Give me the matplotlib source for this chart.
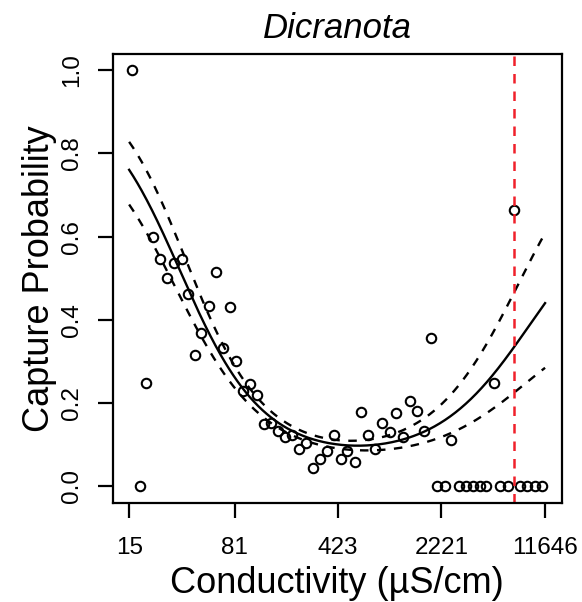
import numpy as np
import matplotlib
matplotlib.use("Agg")
import matplotlib.pyplot as plt

plt.rcParams['font.family'] = ['Liberation Sans', 'DejaVu Sans']

# ---- data ----
cond = [15.7, 19.8, 17.8, 22.0, 24.5, 30.7, 34.7, 27.5, 60.0, 38.5, 53.9, 75.0,
        47.7, 42.9, 67.4, 83.5, 104.5, 92.9, 116.9, 129.3, 146.2, 162.5, 180.9,
        204.6, 255.8, 227.3, 395.9, 355.7, 316.5, 284.3, 442.8, 492.9, 553.9,
        616.6, 684.8, 762.6, 862.5, 969, 1066, 1199, 1335, 1509, 1677, 1867,
        2600, 5111, 7039,
        2077, 2335, 2934, 3304, 3670, 4086, 4548, 5690, 6395, 7833, 8760, 9848, 11057]
capture = [1.0, 0.248, 0.0, 0.60, 0.545, 0.537, 0.545, 0.50, 0.515, 0.462, 0.433, 0.431,
           0.367, 0.315, 0.332, 0.30, 0.245, 0.229, 0.219, 0.149, 0.152, 0.132, 0.119,
           0.123, 0.104, 0.088, 0.123, 0.085, 0.066, 0.043, 0.065, 0.085, 0.058,
           0.179, 0.124, 0.090, 0.152, 0.131, 0.176, 0.119, 0.204, 0.180, 0.133, 0.357,
           0.111, 0.249, 0.665,
           0, 0, 0, 0, 0, 0, 0, 0, 0, 0, 0, 0, 0]

# fitted curve and confidence band, read at a few conductivities
fit_cond = [15, 38.5, 63.9, 75.0, 108.9, 185.9, 485, 1199, 3304, 5055, 6960, 11646]
fit_prob = [0.761, 0.459, 0.343, 0.283, 0.207, 0.127, 0.0986, 0.119, 0.199, 0.255, 0.335, 0.443]
upper_cond = [15, 29.5, 40.7, 57.5, 75.0, 146.2, 316.5, 600, 1266, 2045, 3304, 6605, 11244]
upper_prob = [0.828, 0.631, 0.503, 0.383, 0.303, 0.175, 0.120, 0.111, 0.151, 0.200, 0.287, 0.455, 0.611]
lower_cond = [15, 23.2, 34.7, 53.1, 62.2, 103.3, 633, 1566, 2666, 4310, 6960, 9090, 11646]
lower_prob = [0.678, 0.559, 0.447, 0.331, 0.291, 0.191, 0.0865, 0.111, 0.139, 0.191, 0.231, 0.258, 0.283]

threshold = 7039
xticks = [15, 81, 423, 2221, 11646]
xtick_labels = ["15", "81", "423", "2221", "11646"]
yticks = [0.0, 0.2, 0.4, 0.6, 0.8, 1.0]
ytick_labels = ["0.0", "0.2", "0.4", "0.6", "0.8", "1.0"]
title = "Dicranota"


def logit(p):
    p = np.asarray(p, float)
    return np.log(p / (1 - p))


def expit(z):
    return 1 / (1 + np.exp(-z))


# fitted logistic curve (smooth polynomial in log conductivity, logit scale)
fit_coef = np.polyfit(np.log(fit_cond), logit(fit_prob), 4)
# symmetric (Wald-type) half width on the logit scale from both band readings
hw_t = np.concatenate([np.log(upper_cond), np.log(lower_cond)])
hw_v = np.concatenate([logit(upper_prob) - np.polyval(fit_coef, np.log(upper_cond)),
                       np.polyval(fit_coef, np.log(lower_cond)) - logit(lower_prob)])
hw_coef = np.polyfit(hw_t, hw_v, 3)

fig = plt.figure(figsize=(5.82, 6.02), dpi=100)
ax = fig.add_axes([112.5 / 582, 1 - 502.7 / 602, (561.7 - 112.5) / 582, (502.7 - 53.7) / 602])

xs = np.geomspace(min(xticks), max(xticks), 400)
lt = np.log(xs)
eta = np.polyval(fit_coef, lt)
hw = np.polyval(hw_coef, lt)
ax.plot(xs, expit(eta), color='black', lw=1.7)
ax.plot(xs, expit(eta + hw), color='black', lw=1.7, dashes=(3.6, 3.6))
ax.plot(xs, expit(eta - hw), color='black', lw=1.7, dashes=(3.6, 3.6))

ax.plot(cond, capture, linestyle='none', marker='o', markersize=6.8,
        markerfacecolor='none', markeredgecolor='black', markeredgewidth=1.5)

ax.axvline(threshold, color='#f0202a', lw=1.8, dashes=(3.8, 3.2))

ax.set_xscale('log')
lo, hi = np.log(min(xticks)), np.log(max(xticks))
ext = 0.04 * (hi - lo)
ax.set_xlim(np.exp(lo - ext), np.exp(hi + ext))
ax.set_ylim(-0.04, 1.04)
ax.set_xticks(xticks)
ax.set_xticklabels(xtick_labels)
ax.minorticks_off()
ax.set_yticks(yticks)
ax.set_yticklabels(ytick_labels, rotation=90, va='center')

for s in ax.spines.values():
    s.set_linewidth(1.6)
ax.tick_params(axis='both', length=11, width=1.6, labelsize=17.5, color='black')
ax.tick_params(axis='x', pad=14)
ax.tick_params(axis='y', pad=10)

ax.set_xlabel("Conductivity (µS/cm)", fontsize=26, labelpad=5)
ax.set_ylabel("Capture Probability", fontsize=26, labelpad=3)
ax.set_title(title, fontsize=25, style='italic', pad=11)

fig.savefig("out.png", dpi=100)
